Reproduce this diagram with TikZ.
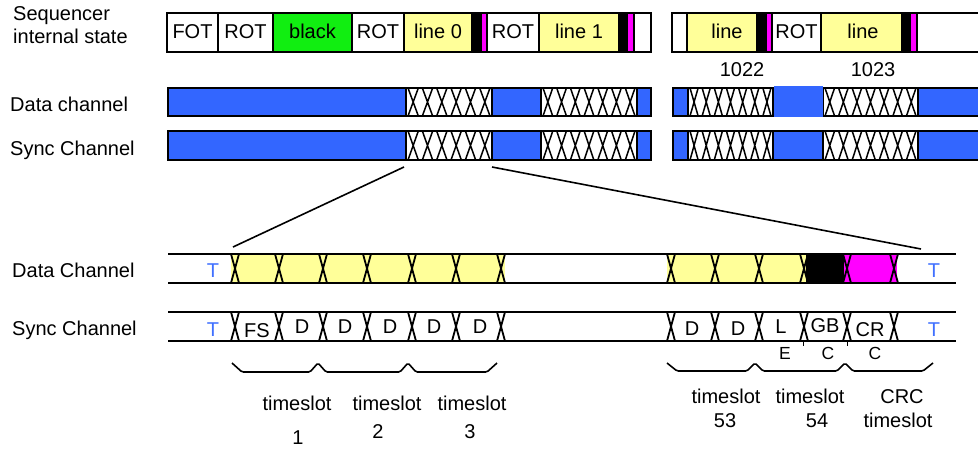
\documentclass[tikz,border=0pt]{standalone}
\usepackage{fontspec}
\setmainfont{Liberation Sans}
\definecolor{segblue}{RGB}{51,102,255}
\definecolor{tblue}{RGB}{64,112,255}
\definecolor{segyellow}{RGB}{255,255,153}
\definecolor{seggreen}{RGB}{17,238,17}
\definecolor{segmagenta}{RGB}{255,0,255}
\begin{document}
\begin{tikzpicture}[x=1pt,y=-1pt,
  font=\fontsize{20}{22}\selectfont,
  cell/.style={draw=black, line width=1.8pt},
  chanseg/.style={draw=black, line width=1.8pt},
  hatchline/.style={line width=1.5pt},
  busline/.style={line width=2.4pt},
  crossline/.style={line width=1.8pt},
  zoomline/.style={line width=1.6pt},
  bracket/.style={line width=1.6pt, rounded corners=1.5pt},
  txt/.style={anchor=base, inner sep=0pt},
  lbl/.style={anchor=base west, inner sep=0pt},
  tlbl/.style={anchor=base, inner sep=0pt, text=tblue},
  small/.style={anchor=base, inner sep=0pt, font=\fontsize{17.5}{19}\selectfont}]
\useasboundingbox (0,0) rectangle (978,448);

% ---------- left labels ----------
\node[lbl] (lseq) at (13,20) {Sequencer};
\node[lbl] (lint) at (13,43) {internal state};
\node[lbl] (ldata) at (10,111.5) {Data channel};
\node[lbl] (lsync) at (10,155) {Sync Channel};
\node[lbl] (ldata2) at (12,277) {Data Channel};
\node[lbl] (lsync2) at (12,335.5) {Sync Channel};

% ---------- sequencer internal state ----------
\foreach \a/\b/\c in {167/218/white, 218/273/white, 273/352/seggreen, 352/404/white,
  404/472/segyellow, 472/481/black, 481/487/segmagenta, 487/539/white,
  539/619/segyellow, 619/627/black, 627/634/segmagenta, 634/651/white,
  672/687/white, 687/757/segyellow, 757/766/black, 766/772/segmagenta,
  772/821/white, 821/902/segyellow, 902/910/black, 910/917/segmagenta, 917/990/white}
  \draw[cell, fill=\c] (\a,13) rectangle (\b,52);
\node[txt] (sfot) at (192.5,38.5) {FOT};
\node[txt] (srot1) at (245.5,38.5) {ROT};
\node[txt] (sblack) at (312.5,38.5) {black};
\node[txt] (srot2) at (378,38.5) {ROT};
\node[txt] (sl0) at (438,38.5) {line 0};
\node[txt] (srot3) at (513,38.5) {ROT};
\node[txt] (sl1) at (579,38.5) {line 1};
\node[txt] (sl1022) at (727,38.5) {line};
\node[txt] (srot4) at (796.5,38.5) {ROT};
\node[txt] (sl1023) at (863,38.5) {line};
\node[txt] (n1022) at (742,76) {1022};
\node[txt] (n1023) at (873,76) {1023};

% ---------- upper data / sync channels ----------
\foreach \ya/\yb in {88/116, 131/160}{
  \foreach \a/\b in {168/406, 492/541, 637/651, 673/688, 773/823, 918/990}
    \draw[chanseg, fill=segblue] (\a,\ya) rectangle (\b,\yb);
  \foreach \a/\b/\n in {406/492/6, 541/637/7, 688/773/7, 823/918/7}{
    \draw[chanseg, fill=white] (\a,\ya) rectangle (\b,\yb);
    \pgfmathsetmacro{\w}{(\b-\a)/\n}
    \foreach \i in {1,...,\n}{
      \pgfmathsetmacro{\xl}{\a+(\i-1)*\w+2}
      \pgfmathsetmacro{\xr}{\a+\i*\w-2}
      \draw[hatchline] (\xl,\ya) -- (\xr,\yb) (\xl,\yb) -- (\xr,\ya);
    }
  }
}
% borderless blue block in the data channel
\fill[segblue] (773.5,86) rectangle (823,117);

% ---------- zoom connectors ----------
\coordinate (zl1) at (404,167);
\coordinate (zl2) at (233,247);
\coordinate (zr1) at (492,167);
\coordinate (zr2) at (921,249);
\draw[zoomline] (zl1) -- (zl2);
\draw[zoomline] (zr1) -- (zr2);

% ---------- lower data channel ----------
\fill[segyellow] (231,254) rectangle (505,283);
\fill[segyellow] (667,254) rectangle (806,283);
\fill[black] (806,254) rectangle (844,283);
\fill[segmagenta] (844,254) rectangle (897,283);
\foreach \ya/\yb in {254/283, 312/341}{
  \draw[busline] (168,\ya) -- (956,\ya);
  \draw[busline] (168,\yb) -- (956,\yb);
  \foreach \x in {235,279,323,367,412,456,501,671,715,759,804,847,894}
    \draw[crossline] (\x-4,\ya) -- (\x+4,\yb) (\x-4,\yb) -- (\x+4,\ya);
}
\draw[line width=0.8pt] (803,341) -- (803,346) (847,341) -- (847,346);

\node[tlbl] (td1) at (213,277) {T};
\node[tlbl] (td2) at (934,277) {T};
\node[tlbl] (ts1) at (213,336) {T};
\node[tlbl] (ts2) at (934,336) {T};

% ---------- lower sync channel labels ----------
\node[txt] (sfs) at (257,337) {FS};
\node[txt] (sd1) at (302,333) {D};
\node[txt] (sd2) at (345,333) {D};
\node[txt] (sd3) at (390,333) {D};
\node[txt] (sd4) at (434,333) {D};
\node[txt] (sd5) at (480,333) {D};
\node[txt] (sd6) at (692,335) {D};
\node[txt] (sd7) at (738,335) {D};
\node[txt] (sL) at (781,333) {L};
\node[txt] (sGB) at (825,332) {GB};
\node[txt] (sCR) at (870,336) {CR};

\node[small] (cE) at (785,359.5) {E};
\node[small] (cC1) at (828,359.5) {C};
\node[small] (cC2) at (875,359.5) {C};

% ---------- brackets ----------
\draw[bracket] (232,363) -- (242,372) -- (310,372) -- (318,363) -- (326,372) -- (400,372)
  -- (408,363) -- (416,372) -- (487,372) -- (497,363);
\draw[bracket] (667,363) -- (677,371) -- (747,371) -- (755,363) -- (763,371) -- (837,371)
  -- (845,363) -- (853,371) -- (923,371) -- (933,363);

% ---------- timeslot labels ----------
\node[txt] (ts1a) at (297,410) {timeslot};
\node[txt] (ts2a) at (387,410) {timeslot};
\node[txt] (ts3a) at (472,410) {timeslot};
\node[txt] (ts1b) at (298,444) {1};
\node[txt] (ts2b) at (378,438) {2};
\node[txt] (ts3b) at (470,438) {3};
\node[txt] (ts53a) at (726,403) {timeslot};
\node[txt] (ts53b) at (725,427) {53};
\node[txt] (ts54a) at (810,403) {timeslot};
\node[txt] (ts54b) at (817,427) {54};
\node[txt] (crca) at (902,403) {CRC};
\node[txt] (crcb) at (898,427) {timeslot};
\end{tikzpicture}
\end{document}
